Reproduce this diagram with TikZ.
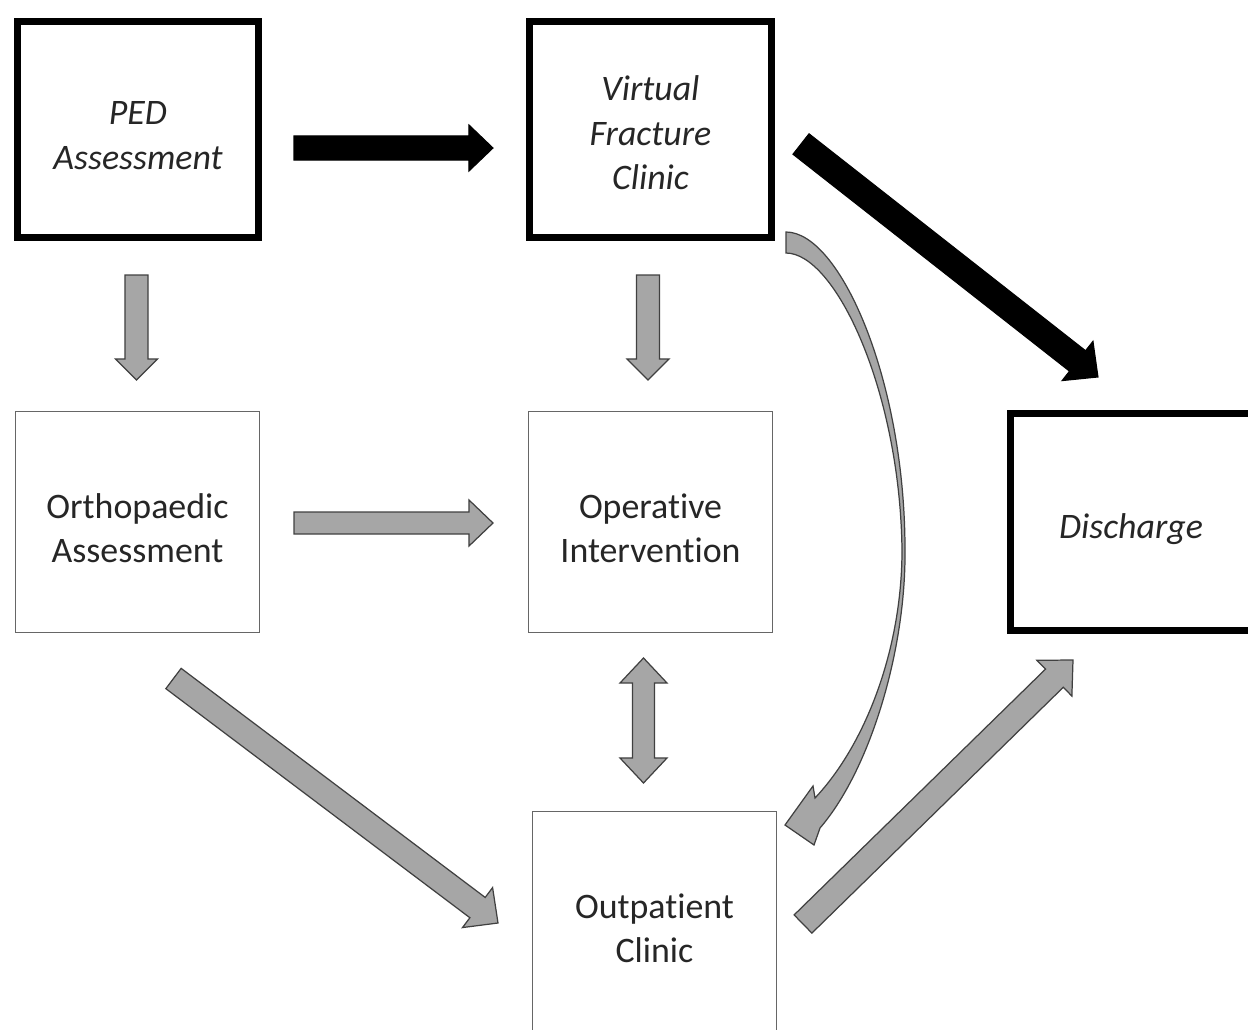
\documentclass[tikz,border=0pt]{standalone}
\usepackage{fontspec}
\setmainfont{Carlito}[RawFeature={-liga;-clig;-dlig;-calt}]
\usetikzlibrary{calc}

\tikzset{
  cajagruesa/.style={draw=black, line width=2pt, minimum width=2.41cm, minimum height=2.16cm,
    align=center, text=black!85, font=\fontsize{10.2pt}{12.6pt}\selectfont\itshape},
  cajafina/.style={draw=black!60, line width=0.5pt, minimum width=2.44cm, minimum height=2.21cm,
    align=center, text=black!85, font=\fontsize{10.2pt}{12.6pt}\selectfont},
  flechagris/.style={fill=black!35, draw=black!75, line width=0.35pt},
  flechanegra/.style={fill=black, draw=black, line width=0.3pt}
}
% puntal para bajar el texto
\newcommand{\bajar}[1]{\rule{0pt}{#1}}

% flecha de bloque: estilo, cola, punta, semiancho, semiancho cabeza, largo cabeza
\newcommand{\flecha}[6]{
  \coordinate (hb) at ($(#3)!#6!(#2)$);
  \path[#1] ($(#2)!#4!90:(#3)$) -- ($(hb)!#4!90:(#3)$) -- ($(hb)!#5!90:(#3)$) -- (#3)
    -- ($(hb)!#5!-90:(#3)$) -- ($(hb)!#4!-90:(#3)$) -- ($(#2)!#4!-90:(#3)$) -- cycle;
}

\begin{document}
\begin{tikzpicture}[x=0.01cm, y=-0.01cm]
    \useasboundingbox (0,0) rectangle (1248,1030);

    % Cajas
    \node[cajagruesa] (ped) at (138,129.5) {\bajar{10pt}PED\\Assessment};
    \node[cajagruesa] (vfc) at (650.5,129.5) {\bajar{9pt}Virtual\\Fracture\\Clinic};
    \node[cajafina] (ortho) at (137.5,522) {\bajar{10.4pt}Orthopaedic\\Assessment};
    \node[cajafina] (oper) at (650.5,522) {\bajar{10.4pt}Operative\\Intervention};
    \node[cajagruesa] (disch) at (1131,522) {\bajar{11pt}Discharge};
    \node[cajafina] (outpt) at (654.5,922) {\bajar{10.4pt}Outpatient\\Clinic};

    % Flechas negras
    \coordinate (pedvfc1) at (294,148);
    \coordinate (pedvfc2) at (493,148);
    \flecha{flechanegra}{pedvfc1}{pedvfc2}{0.12cm}{0.23cm}{0.24cm}
    \coordinate (vfcdis1) at (801,144);
    \coordinate (vfcdis2) at (1098,377);
    \flecha{flechanegra}{vfcdis1}{vfcdis2}{0.13cm}{0.25cm}{0.26cm}

    % Flechas grises
    \coordinate (pedort1) at (136.5,275);
    \coordinate (pedort2) at (136.5,380);
    \flecha{flechagris}{pedort1}{pedort2}{0.115cm}{0.21cm}{0.21cm}
    \coordinate (vfcop1) at (648,275);
    \coordinate (vfcop2) at (648,380);
    \flecha{flechagris}{vfcop1}{vfcop2}{0.115cm}{0.21cm}{0.21cm}
    \coordinate (ortop1) at (294,523);
    \coordinate (ortop2) at (493,523);
    \flecha{flechagris}{ortop1}{ortop2}{0.11cm}{0.23cm}{0.24cm}
    \coordinate (ortout1) at (173.5,678.5);
    \coordinate (ortout2) at (498,923);
    \flecha{flechagris}{ortout1}{ortout2}{0.127cm}{0.25cm}{0.256cm}
    \coordinate (outdis1) at (803,924);
    \coordinate (outdis2) at (1073,660);
    \flecha{flechagris}{outdis1}{outdis2}{0.127cm}{0.25cm}{0.26cm}

    % Flecha doble
    \coordinate (opout1) at (643.5,658);
    \coordinate (opout2) at (643.5,783);
    \coordinate (ha) at ($(opout1)!0.25cm!(opout2)$);
    \coordinate (hz) at ($(opout2)!0.25cm!(opout1)$);
    \path[flechagris] (opout1) -- ($(ha)!0.235cm!90:(opout2)$) -- ($(ha)!0.11cm!90:(opout2)$)
      -- ($(hz)!0.11cm!90:(opout2)$) -- ($(hz)!0.235cm!90:(opout2)$) -- (opout2)
      -- ($(hz)!0.235cm!-90:(opout2)$) -- ($(hz)!0.11cm!-90:(opout2)$)
      -- ($(ha)!0.11cm!-90:(opout2)$) -- ($(ha)!0.235cm!-90:(opout2)$) -- cycle;

    % Flecha curva
    \draw[flechagris] (786,232) .. controls (840,232) and (905,380) .. (905,550)
      .. controls (906,650) and (870,770) .. (820,828)
      -- (814,845) -- (785,825) -- (813,786) -- (815,798)
      .. controls (865,745) and (902,650) .. (902,550)
      .. controls (900,390) and (835,253) .. (786,253) -- cycle;
\end{tikzpicture}
\end{document}
